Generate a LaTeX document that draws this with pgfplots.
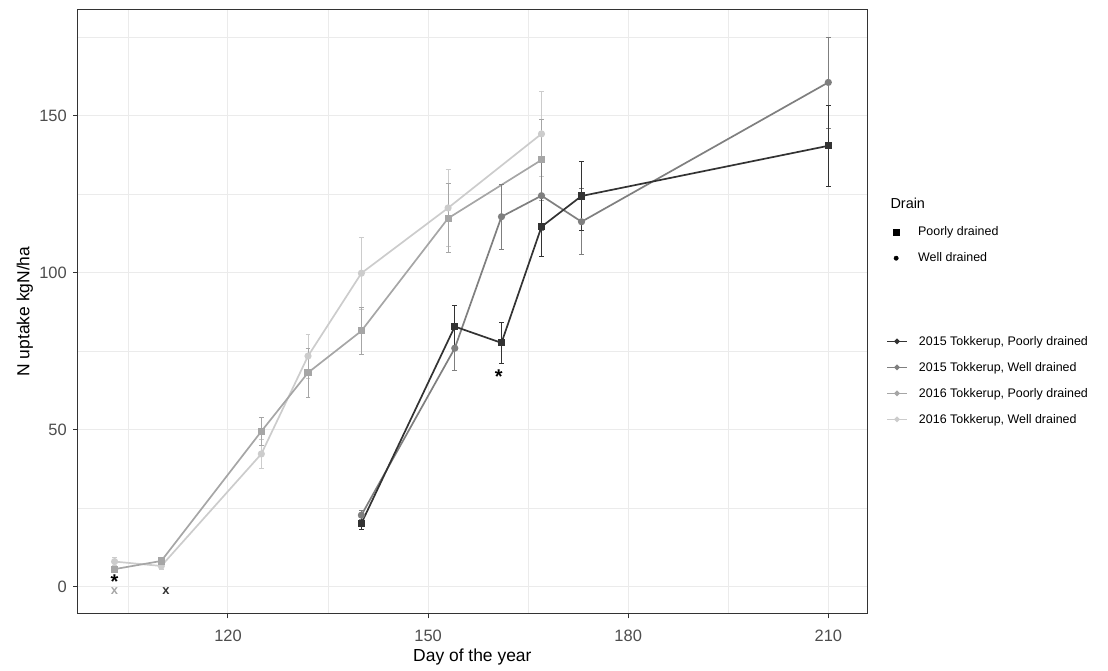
\documentclass[border=0pt]{standalone}
\usepackage{fontspec}
\setmainfont{Liberation Sans}
\usepackage{pgfplots}
\pgfplotsset{compat=1.18}
\definecolor{cA}{HTML}{333333}
\definecolor{cB}{HTML}{7F7F7F}
\definecolor{cC}{HTML}{A6A6A6}
\definecolor{cD}{HTML}{CCCCCC}
\definecolor{gridc}{HTML}{EBEBEB}
\definecolor{tickc}{HTML}{4D4D4D}
\pgfplotsset{
  common/.style={
    at={(0,0)}, anchor=south west,
    width=789.3bp, height=604.7bp, scale only axis,
    xmin=97.47, xmax=215.8, ymin=-8.7, ymax=184,
  },
  ser/.style={color=#1, line width=1.7bp, mark size=2.7bp,
    error bars/.cd, y dir=both, y explicit,
    error bar style={line width=0.8bp, color=#1},
    error mark options={rotate=90, mark size=2.4bp, line width=0.8bp, color=#1},
    /pgfplots/.cd},
}
\begin{document}
\begin{tikzpicture}[x=1bp,y=1bp]
\path[use as bounding box] (-77.7,-57) rectangle (1030.3,614);
\begin{axis}[common,
  xtick={120,150,180,210}, minor xtick={105,135,165,195},
  ytick={0,50,100,150}, minor ytick={25,75,125,175},
  xtick pos=bottom, ytick pos=left,
  grid=both,
  major grid style={color=gridc, line width=1bp},
  minor grid style={color=gridc, line width=0.5bp},
  axis line style={color=cA, line width=1bp},
  tick style={color=cA, line width=1bp},
  major tick length=4.5bp, minor tick length=0pt, tick align=outside,
  /pgf/number format/assume math mode=true,
  ticklabel style={font=\fontsize{16.5}{16.5}\selectfont, color=tickc},
  xticklabel style={yshift=-8bp},
  yticklabel style={xshift=-3bp},
  xlabel={Day of the year},
  ylabel={N uptake kgN/ha},
  xlabel style={font=\fontsize{17.5}{17.5}\selectfont, at={(axis description cs:0.5,-0.0711)}, anchor=center},
  ylabel style={font=\fontsize{17.5}{17.5}\selectfont, at={(axis description cs:-0.0668,0.5)}, anchor=center},
  legend style={draw=none, fill=none, at={(1.0202,0.4664)}, anchor=north west,
    font=\fontsize{12.5}{13}\selectfont, row sep=11.5bp, legend cell align=left},
  legend image code/.code={\path[draw=none, fill=none] (0bp,0bp) -- (30bp,0bp);\draw[#1, mark repeat=2, mark phase=2] plot coordinates {(0bp,0bp) (10bp,0bp) (20bp,0bp)};},
]
% 2016 Well drained
\addplot[mark=*, forget plot, ser=cD] coordinates {
 (103,8.0) +- (0,1.3)
 (110,6.6) +- (0,1.0)
 (125,42.3) +- (0,4.5)
 (132,73.5) +- (0,7.0)
 (140,99.9) +- (0,11.5)
 (153,120.7) +- (0,12.3)
 (167,144.3) +- (0,13.5)
};
% 2016 Poorly drained
\addplot[mark=square*, forget plot, ser=cC] coordinates {
 (103,5.6) +- (0,1.0)
 (110,8.2) +- (0,0.8)
 (125,49.5) +- (0,4.5)
 (132,68.2) +- (0,7.8)
 (140,81.5) +- (0,7.5)
 (153,117.4) +- (0,11.0)
 (167,136.0) +- (0,13.0)
};
% 2015 Well drained
\addplot[mark=*, forget plot, ser=cB] coordinates {
 (140,22.8) +- (0,1.5)
 (154,76.0) +- (0,7.0)
 (161,117.9) +- (0,10.3)
 (167,124.6) +- (0,11.0)
 (173,116.3) +- (0,10.5)
 (210,160.7) +- (0,14.5)
};
% 2015 Poorly drained
\addplot[mark=square*, forget plot, ser=cA] coordinates {
 (140,20.2) +- (0,2.0)
 (154,82.9) +- (0,6.8)
 (161,77.7) +- (0,6.5)
 (167,114.7) +- (0,9.3)
 (173,124.5) +- (0,11.0)
 (210,140.5) +- (0,13.0)
};
\addlegendimage{color=cA, line width=1.7bp, mark=*, mark size=1.8bp}
\addlegendentry{2015 Tokkerup, Poorly drained}
\addlegendimage{color=cB, line width=1.7bp, mark=*, mark size=1.8bp}
\addlegendentry{2015 Tokkerup, Well drained}
\addlegendimage{color=cC, line width=1.7bp, mark=*, mark size=1.8bp}
\addlegendentry{2016 Tokkerup, Poorly drained}
\addlegendimage{color=cD, line width=1.7bp, mark=*, mark size=1.8bp}
\addlegendentry{2016 Tokkerup, Well drained}
\node[font=\fontsize{20}{20}\selectfont\bfseries] at (axis cs:103,1.6) {*};
\node[font=\fontsize{20}{20}\selectfont\bfseries] at (axis cs:160.6,66.8) {*};
\node[font=\fontsize{13}{13}\selectfont\bfseries, color=cC] at (axis cs:103,-1.3) {x};
\node[font=\fontsize{13}{13}\selectfont\bfseries, color=cA] at (axis cs:110.7,-1.3) {x};
\end{axis}
\begin{axis}[common, hide axis, clip=false,
  legend style={draw=none, fill=none, at={(1.0202,0.647)}, anchor=north west,
    font=\fontsize{12.5}{13}\selectfont, row sep=11.5bp, legend cell align=left},
  legend image code/.code={\path[draw=none, fill=none] (0bp,0bp) -- (30bp,0bp);\draw[#1] plot coordinates {(10bp,0bp)};},
]
\addlegendimage{only marks, mark=square*, color=black, mark size=3bp}
\addlegendentry{Poorly drained}
\addlegendimage{only marks, mark=*, color=black, mark size=2.2bp}
\addlegendentry{Well drained}
\node[anchor=west, font=\fontsize{14.5}{14.5}\selectfont] at (rel axis cs:1.0253,0.6798) {Drain};
\end{axis}
\end{tikzpicture}
\end{document}
